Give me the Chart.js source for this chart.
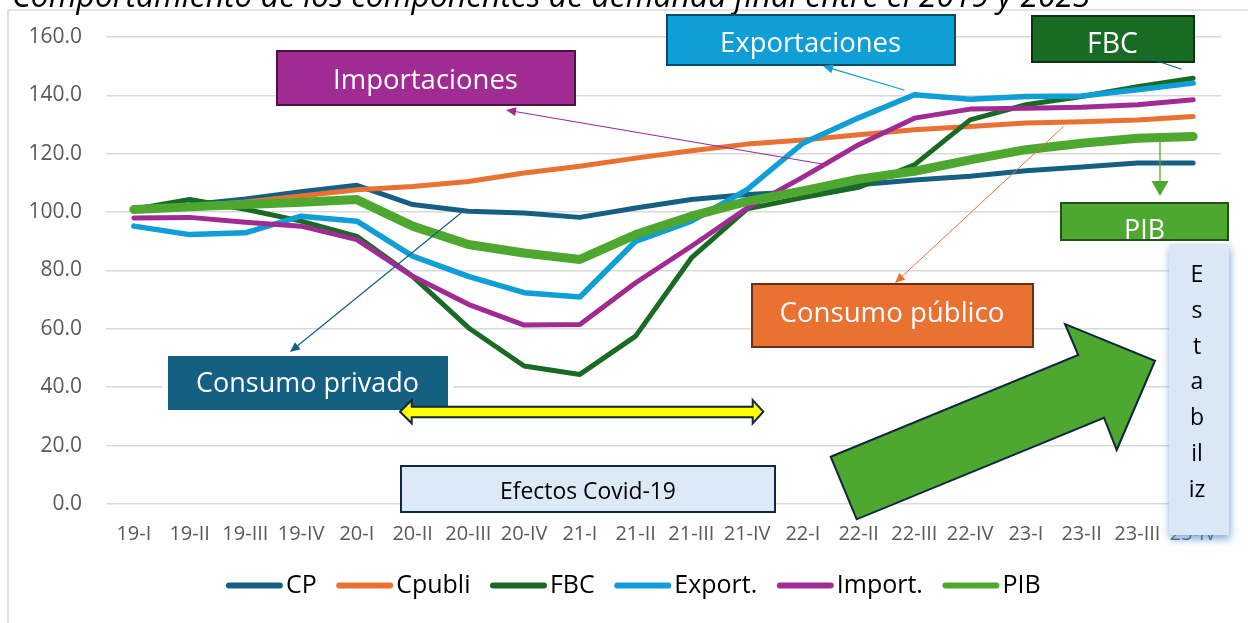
<!DOCTYPE html>
<html><head><meta charset="utf-8">
<script src="https://cdn.jsdelivr.net/npm/chart.js@4.4.1/dist/chart.umd.min.js"></script>
<style>html,body{margin:0;padding:0;background:#fff;overflow:hidden}canvas{display:block}</style>
</head><body>
<canvas id="c" width="1248" height="623" style="width:1248px;height:623px"></canvas>
<script>
// ---- data ----
const categories = ['19-I','19-II','19-III','19-IV','20-I','20-II','20-III','20-IV','21-I','21-II','21-III','21-IV','22-I','22-II','22-III','22-IV','23-I','23-II','23-III','23-IV'];
const seriesNames = ['CP','Cpubli','FBC','Export.','Import.','PIB'];
const cpValues     = [101, 102.5, 104.5, 107, 109.2, 102.6, 100.3, 99.7, 98.2, 101.4, 104.3, 106, 107, 109.4, 111, 112.3, 114.2, 115.5, 116.8, 116.8];
const cpubliValues = [101, 102, 103.5, 105.5, 107.7, 108.8, 110.5, 113.4, 115.7, 118.5, 121, 123.3, 124.7, 126.5, 128.2, 129.3, 130.5, 131, 131.6, 132.8];
const fbcValues    = [101, 104.3, 101, 96.9, 91.7, 78, 60.4, 47.3, 44.4, 57.5, 84.3, 101.1, 105, 108.5, 116.2, 131.6, 136.8, 139.6, 143, 145.9];
const exportValues = [95.2, 92.3, 92.9, 98.6, 96.9, 84.9, 78, 72.4, 70.9, 90, 96.9, 107.7, 123.6, 132.3, 140.2, 138.7, 139.6, 139.8, 141.9, 144.2];
const importValues = [98, 98.2, 96.5, 95.2, 90.6, 78, 68.4, 61.3, 61.5, 75.8, 88.3, 101.4, 112, 123.1, 132.2, 135.3, 135.6, 135.9, 136.8, 138.5];
const pibValues    = [100.9, 101.8, 102.6, 103.4, 104.3, 95.2, 88.9, 86, 83.8, 92.3, 98.6, 103.7, 107.3, 111.3, 114, 117.9, 121.4, 123.6, 125.3, 125.9];
const titleText = 'Comportamiento de los componentes de demanda final entre el 2019 y 2023';
const estabilizLetters = ['E','s','t','a','b','il','iz'];

const FONT = '"Open Sans", "Noto Sans", sans-serif';
const colors = ['#156082','#E97132','#196B24','#0F9ED5','#A02B93','#4EA72E'];
const widths = [5,5,5,5.5,5,9];
const allValues = [cpValues, cpubliValues, fbcValues, exportValues, importValues, pibValues];

function fitText(ctx, text, cx, baseY, w, color, style) {
  ctx.font = (style||'') + ' 100px ' + FONT;
  const m = ctx.measureText(text).width;
  const size = 100 * w / m;
  ctx.font = (style||'') + ' ' + size + 'px ' + FONT;
  ctx.fillStyle = color; ctx.textAlign = 'center'; ctx.textBaseline = 'alphabetic';
  ctx.fillText(text, cx, baseY);
}
function box(ctx, x, y, w, h, fill, stroke, lw) {
  ctx.fillStyle = fill; ctx.fillRect(x, y, w, h);
  if (stroke) { ctx.strokeStyle = stroke; ctx.lineWidth = lw || 2; ctx.strokeRect(x, y, w, h); }
}
function lineArrow(ctx, x1, y1, x2, y2, color, lw, hl, hw) {
  const a = Math.atan2(y2 - y1, x2 - x1);
  ctx.save(); ctx.strokeStyle = color; ctx.fillStyle = color; ctx.lineWidth = lw;
  ctx.beginPath(); ctx.moveTo(x1, y1);
  ctx.lineTo(x2 - Math.cos(a) * hl * 0.9, y2 - Math.sin(a) * hl * 0.9); ctx.stroke();
  if (hl) {
    ctx.beginPath(); ctx.moveTo(x2, y2);
    ctx.lineTo(x2 - Math.cos(a) * hl - Math.sin(a) * hw / 2, y2 - Math.sin(a) * hl + Math.cos(a) * hw / 2);
    ctx.lineTo(x2 - Math.cos(a) * hl + Math.sin(a) * hw / 2, y2 - Math.sin(a) * hl - Math.cos(a) * hw / 2);
    ctx.closePath(); ctx.fill();
  }
  ctx.restore();
}
function poly(ctx, pts, fill, stroke, lw) {
  ctx.beginPath(); ctx.moveTo(pts[0][0], pts[0][1]);
  for (let i = 1; i < pts.length; i++) ctx.lineTo(pts[i][0], pts[i][1]);
  ctx.closePath(); ctx.fillStyle = fill; ctx.fill();
  ctx.lineJoin = 'miter'; ctx.strokeStyle = stroke; ctx.lineWidth = lw; ctx.stroke();
}

const LEGEND_SHIFT = 23;
const decor = {
  id: 'decor',
  afterLayout(chart) {
    const lg = chart.legend;
    if (lg && !lg._shifted) { lg.left += LEGEND_SHIFT; lg.right += LEGEND_SHIFT; lg._shifted = true; }
  },
  beforeDraw(chart) {
    const ctx = chart.ctx; ctx.save();
    ctx.fillStyle = '#fff'; ctx.fillRect(0, 0, chart.width, chart.height);
    ctx.strokeStyle = '#d9d9d9'; ctx.lineWidth = 1.5; ctx.strokeRect(8, 10, 1400, 800);
    ctx.restore();
  },
  afterDraw(chart) {
    const ctx = chart.ctx; ctx.save();
    // legend line samples (drawn at the legend's own hit boxes)
    const lg = chart.legend;
    if (lg && lg.legendHitBoxes) {
      lg.legendHitBoxes.forEach((hb, i) => {
        const it = lg.legendItems[i];
        const cy = hb.top + hb.height / 2;
        ctx.beginPath(); ctx.lineCap = 'round'; ctx.lineWidth = 6; ctx.strokeStyle = it.fillStyle;
        ctx.moveTo(hb.left + 2.5, cy); ctx.lineTo(hb.left + 53.5, cy); ctx.stroke();
      });
    }
    // title (cut at top)
    ctx.font = 'italic 100px ' + FONT;
    const tw = ctx.measureText(titleText).width;
    ctx.font = 'italic ' + (100 * 1079 / tw) + 'px ' + FONT;
    ctx.fillStyle = '#000'; ctx.textAlign = 'left'; ctx.textBaseline = 'alphabetic';
    ctx.fillText(titleText, 12, 6.5);

    // Importaciones
    box(ctx, 277, 51, 298, 54, '#A02B93', '#4A1545', 2);
    fitText(ctx, 'Importaciones', 425.5, 89, 185, '#fff');
    lineArrow(ctx, 828, 165, 506, 110, '#A02B93', 1.1, 10, 9);
    // Exportaciones
    box(ctx, 667, 15, 288, 50, '#0F9ED5', '#0B4A66', 2);
    fitText(ctx, 'Exportaciones', 810.5, 52, 181, '#fff');
    lineArrow(ctx, 904, 90, 823, 66, '#0F9ED5', 1.3, 10, 9);
    // FBC
    box(ctx, 1032, 16, 162, 46, '#196B24', '#0C3310', 2);
    fitText(ctx, 'FBC', 1112.5, 53, 51, '#fff');
    lineArrow(ctx, 1142, 56, 1181, 69, '#156082', 1.3, 0, 0);
    // PIB
    lineArrow(ctx, 1160, 142, 1160, 196, '#4EA72E', 1.3, 15, 17);
    box(ctx, 1061, 203, 167, 37, '#4EA72E', '#24501A', 2);
    fitText(ctx, 'PIB', 1144.5, 238.5, 41, '#fff');
    // Consumo publico
    box(ctx, 752, 284, 281, 63, '#E97132', '#6B3010', 2);
    fitText(ctx, 'Consumo público', 892, 322, 225, '#fff');
    lineArrow(ctx, 1063, 127, 895, 283, '#E97132', 1, 10, 9);
    // Consumo privado
    ctx.fillStyle = '#fff'; ctx.fillRect(163, 352, 290, 62);
    box(ctx, 168, 356, 280, 54, '#156082', null);
    fitText(ctx, 'Consumo privado', 307.5, 392, 223, '#fff');
    lineArrow(ctx, 461, 213, 290, 352, '#156082', 1.2, 10, 9);
    // yellow double arrow
    poly(ctx, [[400,411.7],[411.7,400],[411.7,406.7],[752.7,406.7],[752.7,400],[763.3,411.7],[752.7,423.3],[752.7,417.3],[411.7,417.3],[411.7,423.3]], '#FFFF00', '#0E2841', 2);
    // Efectos Covid-19
    box(ctx, 401, 466, 374, 46, '#DCE9F7', '#0E2841', 2);
    fitText(ctx, 'Efectos Covid-19', 588, 499, 176, '#000');
    // big green arrow
    poly(ctx, [[830.7,456.7],[1078.3,355],[1065,324],[1155,360.7],[1116.7,450],[1104,417.7],[856.7,519.3]], '#4EA72E', '#0E2841', 2);
    // Estabiliz box
    ctx.save();
    ctx.shadowColor = 'rgba(80,140,210,0.75)'; ctx.shadowBlur = 8; ctx.shadowOffsetX = 1; ctx.shadowOffsetY = 4;
    ctx.fillStyle = '#DAE8F6'; ctx.fillRect(1169, 244, 60, 291);
    ctx.restore();
    ctx.font = '23px ' + FONT; ctx.fillStyle = '#000'; ctx.textAlign = 'center'; ctx.textBaseline = 'alphabetic';
    estabilizLetters.forEach((t, i) => ctx.fillText(t, 1197, 282 + i * 35.8));
    ctx.restore();
  }
};

new Chart(document.getElementById('c'), {
  type: 'line',
  data: {
    labels: categories,
    datasets: seriesNames.map((name, i) => ({
      label: name, data: allValues[i], borderColor: colors[i], backgroundColor: colors[i],
      borderWidth: widths[i], pointRadius: 0, pointHoverRadius: 0, tension: 0, fill: false,
      borderJoinStyle: 'round', borderCapStyle: 'round', order: 5 - i
    }))
  },
  options: {
    responsive: false, animation: false, devicePixelRatio: 1,
    layout: { padding: { left: 0, right: 27, top: 37, bottom: 15 } },
    plugins: {
      tooltip: { enabled: false },
      title: { display: false },
      legend: {
        display: true, position: 'bottom',
        labels: {
          usePointStyle: true, pointStyle: 'line', pointStyleWidth: 47, padding: 20,
          color: '#000', font: { family: FONT, size: 25 },
          generateLabels(chart) {
            return chart.data.datasets.map((ds, i) => ({
              text: ds.label, strokeStyle: 'rgba(0,0,0,0)', fillStyle: ds.borderColor,
              lineWidth: 0, pointStyle: 'line', datasetIndex: i,
              hidden: false, fontColor: '#000'
            }));
          }
        }
      }
    },
    scales: {
      x: {
        offset: true,
        grid: { display: false, drawTicks: false, offset: true }, border: { display: false },
        ticks: { autoSkip: false, maxRotation: 0, minRotation: 0, padding: 18, color: '#595959', font: { family: FONT, size: 20 } },
        afterFit(s) { s.height = 49; }
      },
      y: {
        min: 0, max: 160,
        grid: { color: '#d9d9d9', lineWidth: 1.6, drawTicks: false }, border: { display: false },
        ticks: { stepSize: 20, padding: 24, color: '#595959', font: { family: FONT, size: 21 }, callback: v => Number(v).toFixed(1) },
        afterFit(s) { s.width = 106; }
      }
    }
  },
  plugins: [decor]
});
</script>
</body></html>
